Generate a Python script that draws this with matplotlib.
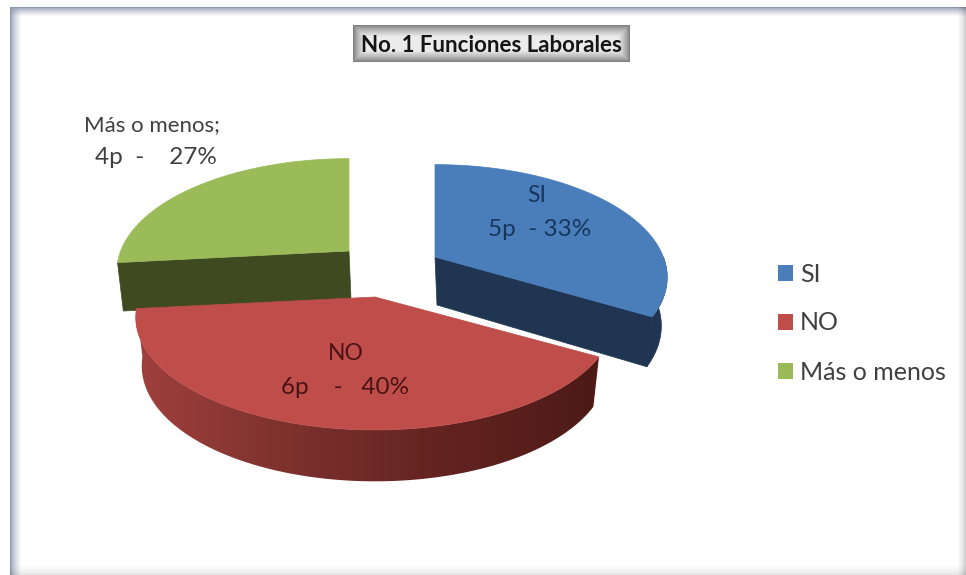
import numpy as np
import matplotlib
matplotlib.use('Agg')
import matplotlib.pyplot as plt
from matplotlib.colors import LinearSegmentedColormap, to_rgb
from matplotlib.patches import Patch, Polygon

categories = ['SI', 'NO', 'Más o menos']
points = [5, 6, 4]
percents = [33, 40, 27]
top_colors = ['#4a7ebb', '#bf4e4b', '#9bbb59']
side_colors = ['#1f3552', '#6e2a27', '#3f4a20']
title = 'No. 1 Funciones Laborales'

W, H = 966, 575
RX, RY = 233, 109
PERSP = 0.18
DEPTH = 48

# slice apex in pixels, each slice is pulled out a different amount
apex = [(435, 257), (375, 297), (349, 251)]
x_scale = [0.98, 1.01, 0.98]

plt.rcParams['font.family'] = ['Lato', 'DejaVu Sans']


def project(theta, cx, cy, sx=1.0, bottom=False):
    # theta in degrees, clockwise from the back of the pie
    t = np.radians(theta)
    u = np.sin(t)
    v = -np.cos(t)
    k = 1 / (1 - PERSP * v)
    s = 0.975 if bottom else 1.0
    x = cx + s * sx * RX * u * k
    y = cy + s * RY * v * k
    if bottom:
        y = y + DEPTH * (1 + 0.14 * v)
    return x, y


def draw_cut(ax, theta, cx, cy, sx, color, z):
    # flat face from the centre out to the rim
    x0, y0 = project(theta, cx, cy, sx)
    x1, y1 = project(theta, cx, cy, sx, bottom=True)
    pts = [(cx, cy), (x0, y0), (x1, y1), (cx + 2, cy + DEPTH)]
    ax.add_patch(Polygon(pts, closed=True, fc=color, ec=color, lw=0.5, zorder=z))


def rim_outline(a0, a1, cx, cy, sx):
    th = np.linspace(a0, a1, 121)
    xt, yt = project(th, cx, cy, sx)
    xb, yb = project(th, cx, cy, sx, bottom=True)
    return list(zip(xt, yt)) + list(zip(xb[::-1], yb[::-1]))


def draw_top(ax, a0, a1, cx, cy, sx, color, z):
    th = np.linspace(a0, a1, 121)
    xt, yt = project(th, cx, cy, sx)
    pts = [(cx, cy)] + list(zip(xt, yt))
    ax.add_patch(Polygon(pts, closed=True, fc=color, ec=color, lw=0.5, zorder=z))


fig = plt.figure(figsize=(W / 100, H / 100), dpi=100)
ax = fig.add_axes([0, 0, 1, 1])

# window frame shading around the chart area
yy, xx = np.mgrid[0:H, 0:W]
bg = np.ones((H, W, 3))
left = np.clip((xx - 10) / 11, 0, 1) ** 0.6
top = np.clip((yy - 7) / 9, 0, 1) ** 0.6
right = np.clip((965 - xx) / 8, 0, 1) ** 0.7
bottom = np.clip((574 - yy) / 9, 0, 1) ** 0.7
frame_blue = np.array(to_rgb('#8c97ae'))
for c in range(3):
    shade = frame_blue[c] + (1 - frame_blue[c]) * left * top
    shade = shade * (0.8 + 0.2 * right) * (0.9 + 0.1 * bottom)
    bg[:, :, c] = shade
bg[(xx < 10) | (yy < 7)] = 1
ax.imshow(bg, extent=(0, W, H, 0), aspect='auto', zorder=0, interpolation='bilinear')

# angles come from the point counts
angles = np.concatenate([[0], np.cumsum(points) / np.sum(points) * 360])

# green slice sits at the back
a0, a1 = angles[2], angles[3]
cx, cy = apex[2]
draw_cut(ax, a0, cx, cy, x_scale[2], side_colors[2], 2)
draw_top(ax, a0, a1, cx, cy, x_scale[2], top_colors[2], 3)

# blue slice, exploded to the right
a0, a1 = angles[0], angles[1]
cx, cy = apex[0]
ax.add_patch(Polygon(rim_outline(90, a1, cx, cy, x_scale[0]), closed=True, fc=side_colors[0], ec=side_colors[0], lw=0.5, zorder=2))
draw_cut(ax, a1, cx, cy, x_scale[0], side_colors[0], 2)
draw_top(ax, a0, a1, cx, cy, x_scale[0], top_colors[0], 3)

# red slice in front, wall goes dark towards the right
a0, a1 = angles[1], angles[2]
cx, cy = apex[1]
wall = Polygon(rim_outline(a0, a1, cx, cy, x_scale[1]), closed=True, fc='none', ec='none', zorder=4)
ax.add_patch(wall)
wall_cmap = LinearSegmentedColormap.from_list('wall', ['#a0403d', '#7c312d', '#632320', '#4d1a16'])
grad = ax.imshow(np.linspace(0, 1, 256)[None, :], extent=(135, 600, 500, 300), cmap=wall_cmap, aspect='auto', zorder=4)
grad.set_clip_path(wall)
draw_top(ax, a0, a1, cx, cy, x_scale[1], top_colors[1], 5)

# title box with a grey glow
x0, x1, y0, y1 = 353, 630, 25, 62
gy, gx = np.mgrid[y0:y1, x0:x1]
dist = np.minimum.reduce([gx - x0, x1 - 1 - gx, gy - y0, y1 - 1 - gy])
g = 0.5 + 0.42 * np.clip(dist / 11, 0, 1) ** 0.8
ax.imshow(g, extent=(x0, x1, y1, y0), cmap='gray', vmin=0, vmax=1, aspect='auto', zorder=6)
ax.text((x0 + x1) / 2, 46, title, ha='center', va='center', fontsize=16, fontweight='bold', color='#151515', zorder=7)

ax.set_xlim(0, W)
ax.set_ylim(H, 0)
ax.axis('off')

# data labels
ax.text(537, 196, categories[0], ha='center', va='center', fontsize=16.5, color='#17365d', zorder=8)
ax.text(540, 230, '%dp  - %d%%' % (points[0], percents[0]), ha='center', va='center', fontsize=17.5, color='#17365d', zorder=8)
ax.text(346, 354, categories[1], ha='center', va='center', fontsize=16.5, color='#4a1214', zorder=8)
ax.text(345, 387, '%dp    -   %d%%' % (points[1], percents[1]), ha='center', va='center', fontsize=17.5, color='#4a1214', zorder=8)
ax.text(152, 125, categories[2] + ';', ha='center', va='center', fontsize=16, color='#404040', zorder=8)
ax.text(156, 157, '%dp  -    %d%%' % (points[2], percents[2]), ha='center', va='center', fontsize=17.5, color='#404040', zorder=8)

handles = [Patch(fc=top_colors[i], ec='none', label=categories[i]) for i in range(3)]
fig.legend(handles=handles, loc='center left', bbox_to_anchor=(778 / W, 1 - 323 / H), frameon=False,
           fontsize=18, labelcolor='#404040', handlelength=0.6, handleheight=0.6,
           handletextpad=0.28, labelspacing=1.04, borderpad=0, borderaxespad=0)

fig.savefig('out.png', dpi=100)
